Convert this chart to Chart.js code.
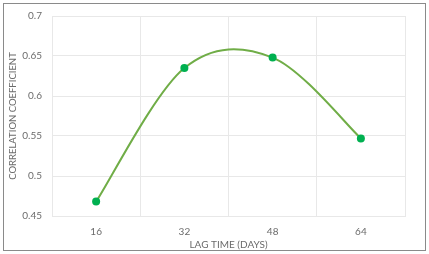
<!DOCTYPE html>
<html>
<head>
<meta charset="utf-8">
<script src="https://cdn.jsdelivr.net/npm/chart.js@4"></script>
<style>
html,body{margin:0;padding:0;background:#fff;}
#wrap{position:absolute;left:0;top:0;width:429px;height:254px;}
#frame{position:absolute;left:3px;top:3px;width:421px;height:246px;border:1px solid #8a8a8a;box-sizing:content-box;pointer-events:none;}
canvas{position:absolute;left:0;top:0;}
</style>
</head>
<body>
<div id="wrap"><canvas id="c" width="429" height="254"></canvas><div id="frame"></div></div>
<script>
const categories = ["16", "32", "48", "64"];
const correlation = [0.468, 0.635, 0.648, 0.547];
const yTicks = [0.45, 0.5, 0.55, 0.6, 0.65, 0.7];
const xTitle = "LAG TIME (DAYS)";
const yTitle = "CORRELATION COEFFICIENT";

const txt = '#6b6b6b';
const grid = '#e8e8e8';
const fam = 'Lato, "Open Sans", sans-serif';

// Spreadsheet-style smoothing (Catmull-Rom control points) applied to Chart.js points
const smoothPlugin = {
  id: 'smooth',
  beforeDatasetsDraw(chart) {
    chart.data.datasets.forEach((ds, i) => {
      const meta = chart.getDatasetMeta(i);
      const pts = meta.data;
      meta.dataset.updateControlPoints(chart.chartArea, 'x');
      for (let k = 0; k < pts.length; k++) {
        const p = pts[k], prev = pts[k - 1] || p, next = pts[k + 1] || p;
        const dx = (next.x - prev.x) / 6, dy = (next.y - prev.y) / 6;
        p.cp1x = p.x - dx; p.cp1y = p.y - dy;
        p.cp2x = p.x + dx; p.cp2y = p.y + dy;
      }
    });
  }
};

new Chart(document.getElementById('c'), {
  type: 'line',
  data: {
    labels: categories,
    datasets: [{
      data: correlation,
      borderColor: '#70ad47',
      borderWidth: 2,
      tension: 0.33,
      pointRadius: 4,
      pointBackgroundColor: '#00b050',
      pointBorderColor: '#00b050',
      pointBorderWidth: 0,
      fill: false
    }]
  },
  options: {
    responsive: false,
    animation: false,
    devicePixelRatio: 1,
    layout: { padding: { left: 0, right: 24, top: 13, bottom: 0 } },
    plugins: { legend: { display: false }, tooltip: { enabled: false } },
    scales: {
      x: {
        type: 'category',
        offset: true,
        grid: { offset: true, color: grid, drawTicks: false, lineWidth: 1 },
        border: { color: grid },
        ticks: { color: txt, font: { family: fam, size: 10 }, padding: 10 },
        title: { display: true, text: xTitle, color: txt, font: { family: fam, size: 10 }, padding: { top: 0, bottom: 3 } },
        afterFit: s => { s.height = 38; }
      },
      y: {
        min: 0.45, max: 0.7,
        afterBuildTicks: s => { s.ticks = yTicks.map(v => ({ value: v })); },
        grid: { color: grid, drawTicks: false },
        border: { color: grid },
        ticks: { color: txt, font: { family: fam, size: 10 }, padding: 10, callback: v => String(+v.toFixed(2)) },
        title: { display: true, text: yTitle, color: txt, font: { family: fam, size: 9.5 }, padding: { top: 7, bottom: 0 } },
        afterFit: s => { s.width = 52; }
      }
    }
  },
  plugins: [smoothPlugin]
});
</script>
</body>
</html>
